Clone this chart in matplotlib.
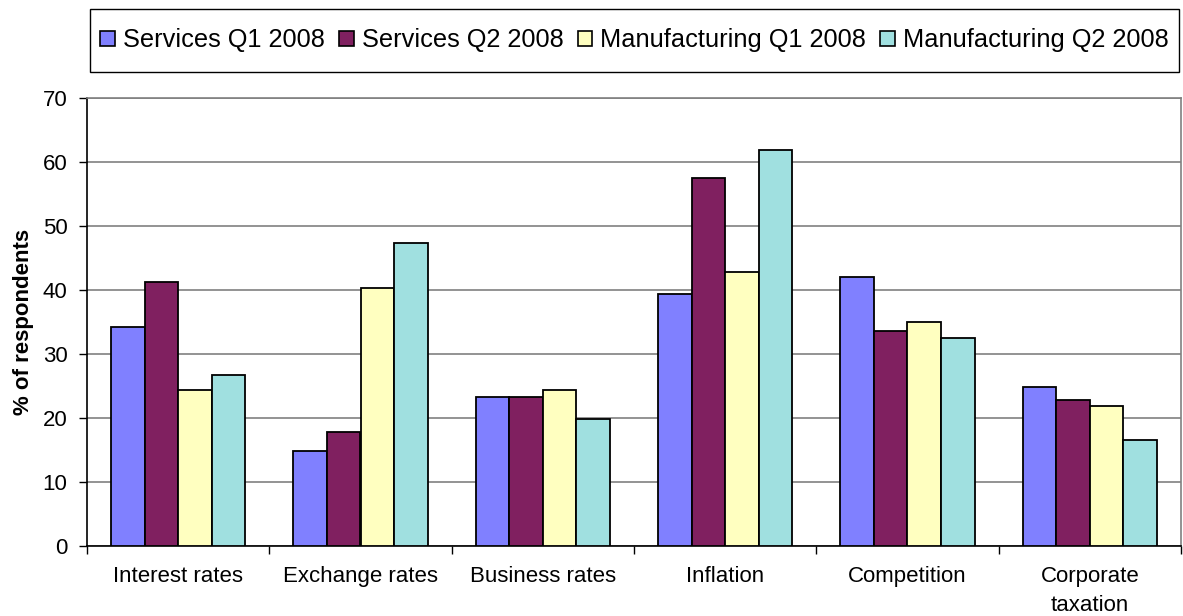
#!/usr/bin/env python
"""
Grouped bar chart: share of respondents citing each factor as a concern,
services vs manufacturing, Q1 and Q2 2008.
"""
import numpy as np
import matplotlib
matplotlib.use('Agg')
import matplotlib.pyplot as plt
from matplotlib.patches import Patch, Rectangle

plt.rcParams['font.family'] = ['Liberation Sans', 'DejaVu Sans']

categories = ['Interest rates', 'Exchange rates', 'Business rates',
              'Inflation', 'Competition', 'Corporate\ntaxation']

series_names = ['Services Q1 2008', 'Services Q2 2008',
                'Manufacturing Q1 2008', 'Manufacturing Q2 2008']

services_q1 = [34.1, 14.7, 23.2, 39.3, 41.9, 24.7]
services_q2 = [41.2, 17.8, 23.2, 57.5, 33.5, 22.8]
manufacturing_q1 = [24.3, 40.2, 24.3, 42.7, 34.9, 21.8]
manufacturing_q2 = [26.6, 47.2, 19.7, 61.8, 32.5, 16.5]

y_ticks = [0, 10, 20, 30, 40, 50, 60, 70]

colors = ['#8080FF', '#802060', '#FFFFC0', '#A0E0E0']

W, H = 1183, 616


def plot_bars(ax):
    """Draw the four series side by side in each category"""
    all_series = [services_q1, services_q2, manufacturing_q1, manufacturing_q2]
    x = np.arange(len(categories))
    width = 0.184
    for i, (name, values) in enumerate(zip(series_names, all_series)):
        offset = (i - 1.5) * width
        ax.bar(x + offset, values, width, color=colors[i], edgecolor='black',
               linewidth=1.3, label=name, zorder=3)
    return x


def style_axes(ax, x):
    """Axis limits, ticks, grid and spines"""
    ax.set_xlim(-0.5, len(categories) - 0.5)
    ax.set_ylim(0, 70)
    ax.set_yticks(y_ticks)
    ax.tick_params(axis='y', labelsize=16, length=6, width=1, pad=8,
                   direction='out')

    # category labels at the centres, tick marks between groups
    ax.set_xticks(x)
    ax.set_xticklabels(categories, fontsize=16, linespacing=1.45)
    ax.tick_params(axis='x', which='major', length=0, pad=15)
    ax.set_xticks(np.arange(len(categories) + 1) - 0.5, minor=True)
    ax.tick_params(axis='x', which='minor', length=6, width=1,
                   direction='out')

    ax.yaxis.grid(True, color='#808080', linewidth=1.2, zorder=0)
    ax.set_axisbelow(True)

    ax.spines['left'].set_color('black')
    ax.spines['bottom'].set_color('black')
    ax.spines['left'].set_linewidth(1.2)
    ax.spines['bottom'].set_linewidth(1.2)
    for side in ('top', 'right'):
        ax.spines[side].set_color('#808080')
        ax.spines[side].set_linewidth(1.2)

    ax.set_ylabel('% of respondents', fontsize=16, fontweight='bold',
                  labelpad=6)


def add_legend(fig):
    """Single-row legend inside a plain rectangular box across the top"""
    box_left, box_right, box_top, box_bottom = 90, 1179, 9, 72
    fig.patches.append(Rectangle(
        (box_left / W, 1 - box_bottom / H),
        (box_right - box_left) / W, (box_bottom - box_top) / H,
        transform=fig.transFigure, facecolor='white', edgecolor='black',
        linewidth=1.0, zorder=1))

    handles = [Patch(facecolor=c, edgecolor='black', linewidth=1.2)
               for c in colors]
    center = ((box_left + box_right) / 2 / W,
              1 - (box_top + box_bottom) / 2 / H)
    fig.legend(handles, series_names, loc='center', bbox_to_anchor=center,
               ncol=4, fontsize=18.3, frameon=False, borderaxespad=0,
               borderpad=0, handlelength=0.58, handleheight=0.58,
               handletextpad=0.31, columnspacing=0.56)


def main():
    fig = plt.figure(figsize=(W / 100, H / 100), dpi=100)
    ax = fig.add_axes([87 / W, 1 - 545.5 / H,
                       (1181 - 87) / W, (545.5 - 97.5) / H])
    x = plot_bars(ax)
    style_axes(ax, x)
    add_legend(fig)
    fig.savefig('out.png', dpi=100)
    plt.close(fig)
    print("Chart saved to: out.png")


if __name__ == "__main__":
    main()
